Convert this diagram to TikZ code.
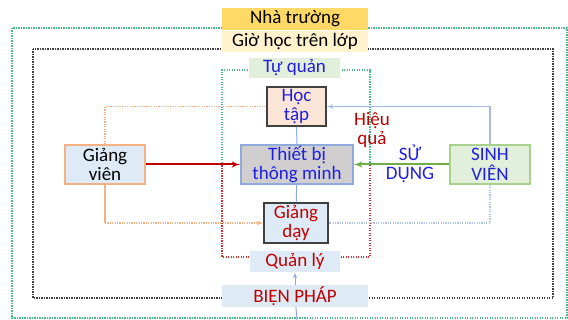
\documentclass[tikz,border=0pt]{standalone}
\usepackage{fontspec}
\setmainfont{Carlito}
\usetikzlibrary{arrows}

\definecolor{txtblue}{HTML}{1F1FE0}
\definecolor{txtred}{HTML}{C00000}
\definecolor{fillgold}{HTML}{FFD966}
\definecolor{fillcream}{HTML}{FFF2CC}
\definecolor{fillgreen}{HTML}{E2EFDA}
\definecolor{fillpeach}{HTML}{FBE5D6}
\definecolor{fillblue}{HTML}{DEEBF7}
\definecolor{fillgray}{HTML}{D0CECE}
\definecolor{lineblue}{HTML}{8FAADC}
\definecolor{lineorange}{HTML}{F4B183}
\definecolor{linegreen}{HTML}{A9D18E}
\definecolor{arrowgreen}{HTML}{70AD47}
\definecolor{frameteal}{HTML}{4DB88A}
\definecolor{framegray}{HTML}{404040}

\begin{document}
\begin{tikzpicture}[x=1pt,y=-1pt,font=\fontsize{19}{19.5}\selectfont]

                \tikzset{box/.style = {shape=rectangle,inner sep=0pt,align=center}}
                \tikzset{keybox/.style = {box,draw=framegray,line width=1.5pt}}
                \tikzset{frame/.style = {line width=1.4pt,dash pattern=on 1.4pt off 1.1pt}}
                \tikzset{edge/.style = {->,> = latex'}}

                \useasboundingbox (0,0) rectangle (568,320);

                % khung ngoai
                \draw[frame,frameteal] (12,28) rectangle (567,318);
                \draw[frame,framegray] (33,49) rectangle (553,298);
                \draw[frame,frameteal] (222,163) -- (222,70) -- (370,70) -- (370,163);
                \draw[frame,txtred!80] (222,163) -- (222,257) -- (370,257) -- (370,163);

                \node[box,fill=fillgold,minimum width=146,minimum height=22] (nt) at (295,19) {Nhà trường};
                \node[box,fill=fillcream,minimum width=146,minimum height=21] (gh) at (295,41.5) {Giờ học trên lớp};
                \node[box,fill=fillgreen,text=txtblue,minimum width=91,minimum height=20] (tq) at (294.5,68) {Tự quản};
                \node[keybox,fill=fillpeach,text=txtblue,minimum width=59,minimum height=39] (ht) at (296.5,106.5) {Học\\tập};
                \node[box,draw=lineblue,line width=1.3pt,fill=fillgray,text=txtblue,minimum width=112,minimum height=39] (tb) at (297,164.5) {Thiết bị\\thông minh};
                \node[keybox,fill=fillblue,text=txtred,minimum width=64,minimum height=40] (gd) at (296,223) {Giảng\\dạy};
                \node[box,fill=fillblue,text=txtred,minimum width=90,minimum height=21] (ql) at (295,261.5) {Quản lý};
                \node[box,fill=fillblue,text=txtred,minimum width=146,minimum height=22] (bp) at (295,296) {BIỆN PHÁP};
                \node[box,draw=lineorange,line width=1.5pt,fill=fillblue,minimum width=80,minimum height=39] (gv) at (105,164.5) {Giảng\\viên};
                \node[box,draw=linegreen,line width=1.5pt,fill=fillgreen,text=txtblue,minimum width=80,minimum height=39] (sv) at (490,164.5) {SINH\\VIÊN};
                \node[box,text=txtred] (hq) at (372,130) {Hiệu\\quả};
                \node[box,text=txtblue] (sd) at (410,164) {SỬ\\DỤNG};

                \coordinate (bot) at (297,320);
                \coordinate (gvd) at (gv.south |- gd.west);

                \draw[edge,txtred,line width=2pt] (gv) to (tb);
                \draw[edge,arrowgreen,line width=2pt] (sv) to (tb);
                \draw[lineblue,line width=1pt] (ht) to (tb);
                \draw[lineblue,line width=1pt] (tb) to (gd);
                \draw[edge,lineblue!80,line width=1.2pt] (sv.north) |- (ht.east);
                \draw[lineblue!70,line width=1.2pt,dash pattern=on 1.2pt off 1.2pt] (sv.south) |- (gd.east);
                \draw[lineorange,line width=1.2pt,dash pattern=on 1.2pt off 1.2pt] (gv.north) |- (ht.west);
                \draw[lineorange,line width=1.2pt] (gv.south) to (gvd);
                \draw[edge,lineorange,line width=1.2pt,dash pattern=on 1.2pt off 1.2pt] (gvd) to (gd.west);
                \draw[edge,lineblue,line width=1pt] (bp) to (ql);
                \draw[lineblue,line width=1pt] (bp) to (bot);

            \end{tikzpicture}
\end{document}
